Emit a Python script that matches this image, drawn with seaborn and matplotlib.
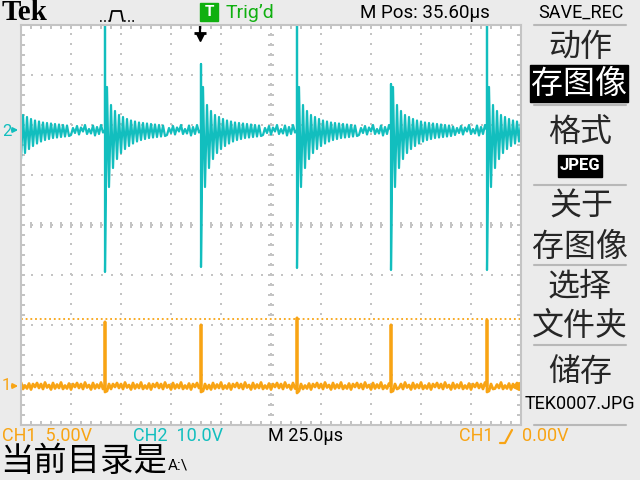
import numpy as np
import pandas as pd
import matplotlib
matplotlib.use("Agg")
import matplotlib.pyplot as plt
import seaborn as sns
from matplotlib.lines import Line2D
from matplotlib.patches import Rectangle
from matplotlib.ticker import MultipleLocator

# ---------------- data (divisions) ----------------
sample_step = 0.04
trace_start = -0.40
trace_end = 10.20

ch2_baseline = 1.90
ch2_spike_x = [-0.24, 1.68, 3.59, 5.52, 7.39, 9.32]
ch2_spike_top = [4.30, 4.30, 3.22, 4.30, 2.82, 4.30]
ch2_spike_bottom = [-0.90, -0.94, -0.84, -0.86, -0.90, -0.90]
ch2_ring = [0.86, -1.14, 0.50, -0.76, 0.38, -0.58, 0.30, -0.46, 0.26, -0.38,
            0.22, -0.32, 0.19, -0.27, 0.17, -0.23, 0.15, -0.20, 0.14, -0.18,
            0.13, -0.16, 0.12, -0.15, 0.11, -0.14, 0.10, -0.13, 0.09, -0.12]
ch2_noise = [0.06, -0.08, 0.10, -0.05, 0.03, -0.11, 0.09, -0.07, 0.11, -0.04,
             0.07, -0.10, 0.04, -0.06, 0.08, -0.09, 0.05, -0.03, 0.10, -0.08,
             0.02, -0.07, 0.09, -0.11]

ch1_baseline = -3.22
ch1_spike_x = [1.68, 3.59, 5.52, 7.39, 9.32]
ch1_spike_top = [-1.94, -2.00, -1.86, -2.00, -1.90]
ch1_spike_bottom = [-3.34, -3.34, -3.36, -3.34, -3.34]
ch1_ring = [-0.10, 0.04, -0.06]
ch1_noise = [0.04, -0.06, 0.07, -0.03, 0.02, -0.07, 0.06, -0.05, 0.03, -0.04,
             0.07, -0.06, 0.01, -0.05, 0.05, -0.07, 0.04, -0.02, 0.06, -0.04]
ch1_level_line = -1.88
trigger_x = 3.58

cyan = "#12bebe"
orange = "#f8a414"
green = "#10b010"
bg = "#ebebeb"
gridc = "#c4c4c4"


def build_trace(name, baseline, spike_x, tops, bottoms, ring, noise):
    n = int(round((trace_end - trace_start) / sample_step))
    t = trace_start + sample_step * np.arange(n)
    v = np.array([baseline + noise[i % len(noise)] for i in range(n)])
    spikes = {}
    for sx, top, bot in zip(spike_x, tops, bottoms):
        idx = int(round((sx - trace_start) / sample_step))
        spikes[idx] = (top, bot)
        for k, r in enumerate(ring, 1):
            if idx + k < n:
                v[idx + k] = baseline + r
    xs, ys = [], []
    for i in range(n):
        if i in spikes:
            xs += [t[i], t[i], t[i]]
            ys += [baseline, spikes[i][0], spikes[i][1]]
        else:
            xs.append(t[i])
            ys.append(v[i])
    return pd.DataFrame({"t": xs, "v": ys, "ch": name})


df2 = build_trace("CH2", ch2_baseline, ch2_spike_x, ch2_spike_top, ch2_spike_bottom, ch2_ring, ch2_noise)
df1 = build_trace("CH1", ch1_baseline, ch1_spike_x, ch1_spike_top, ch1_spike_bottom, ch1_ring, ch1_noise)

# ---------------- figure ----------------
sns.set_style("white")
plt.rcParams["font.family"] = ["Roboto", "DejaVu Sans"]
CJK = ["Noto Sans CJK SC", "DejaVu Sans"]

fig = plt.figure(figsize=(6.4, 4.8), dpi=100, facecolor=bg)
W, H = 640.0, 480.0


def fx(x):
    return x / W


def fy(y):
    return 1 - y / H


ax = fig.add_axes([fx(21), fy(425), 500 / W, 400 / H], facecolor="white")
ax.set_xlim(0, 10)
ax.set_ylim(-4, 4)

# graticule
ax.xaxis.set_major_locator(MultipleLocator(1))
ax.yaxis.set_major_locator(MultipleLocator(1))
ax.xaxis.set_minor_locator(MultipleLocator(0.2))
ax.yaxis.set_minor_locator(MultipleLocator(0.2))
ax.grid(True, which="major", color=gridc, lw=1.44, ls=(0, (1, 4)))
ax.tick_params(which="both", direction="in", length=3, width=1.44, color=gridc,
               top=True, right=True, left=True, bottom=True,
               labelleft=False, labelbottom=False)
for s in ax.spines.values():
    s.set_color(gridc)
    s.set_linewidth(1.5)
minor_x = np.arange(0, 10.01, 0.2)
minor_y = np.arange(-4, 4.01, 0.2)
ax.plot(minor_x, np.zeros_like(minor_x), ls="none", marker="|", ms=4, mew=1.44, color=gridc)
ax.plot(np.full_like(minor_y, 5), minor_y, ls="none", marker="_", ms=4, mew=1.44, color=gridc)

# CH1 level dotted line
ax.axhline(ch1_level_line, color=orange, lw=1.3, ls=(0, (1, 1.6)))

# traces
sns.lineplot(data=df2, x="t", y="v", sort=False, estimator=None, color=cyan,
             lw=1.6, ax=ax, legend=False)
sns.lineplot(data=df1, x="t", y="v", sort=False, estimator=None, color=orange,
             lw=2.0, ax=ax, legend=False)
ax.set_xlim(0, 10)
ax.set_ylim(-4, 4)
ax.set_xlabel("")
ax.set_ylabel("")

# channel markers
ax.annotate("", xy=(0.0, ch2_baseline), xytext=(-0.24, ch2_baseline),
            arrowprops=dict(arrowstyle="-|>", color=cyan, lw=1.4, mutation_scale=7),
            annotation_clip=False)
ax.annotate("", xy=(0.0, ch1_baseline), xytext=(-0.24, ch1_baseline),
            arrowprops=dict(arrowstyle="-|>", color=orange, lw=1.4, mutation_scale=7),
            annotation_clip=False)
ax.plot([9.88], [ch1_baseline], marker="<", ms=6, color=orange, clip_on=False)

# trigger position marker
ax.plot([trigger_x, trigger_x], [4.0, 3.84], color="black", lw=1.6, clip_on=False)
ax.plot([trigger_x], [3.84], marker="_", ms=8, mew=2, color="black", clip_on=False)
ax.plot([trigger_x], [3.76], marker="v", ms=6, color="black", clip_on=False)

fig.text(fx(2), fy(131), "2", color=cyan, fontsize=12, va="center", ha="left")
fig.text(fx(2), fy(385), "1", color=orange, fontsize=12, va="center", ha="left")

# ---------------- header ----------------
fig.text(fx(2), fy(13), "Tek", family=["Liberation Serif"], weight="bold",
         fontsize=21, va="center", ha="left", color="black")
# pulse icon
fig.add_artist(Line2D([fx(100), fx(110)], [fy(21), fy(21)], transform=fig.transFigure,
                      color="black", lw=1.2, ls=(0, (1, 1.5))))
fig.add_artist(Line2D([fx(110), fx(112), fx(121), fx(123)], [fy(21), fy(11), fy(11), fy(21)],
                      transform=fig.transFigure, color="black", lw=1.3))
fig.add_artist(Line2D([fx(124), fx(136)], [fy(21), fy(21)], transform=fig.transFigure,
                      color="black", lw=1.2, ls=(0, (1, 1.5))))
fig.add_artist(Rectangle((fx(200), fy(21)), 18 / W, 18 / H, transform=fig.transFigure,
                         color=green))
fig.text(fx(209), fy(12), "T", color="white", weight="bold", fontsize=11,
         va="center", ha="center")
fig.text(fx(226), fy(13), "Trig\u2019d", color=green, fontsize=14, va="center", ha="left")
fig.text(fx(360), fy(13), "M Pos: 35.60\u00b5s", color="black", fontsize=13.5,
         va="center", ha="left")

# ---------------- right menu ----------------
for ysep in [25, 105, 185, 265, 345, 425]:
    fig.add_artist(Line2D([fx(534), fx(626)], [fy(ysep), fy(ysep)], transform=fig.transFigure,
                          color="#b8b8b8", lw=1.5))
fig.text(fx(581), fy(13), "SAVE_REC", color="black", fontsize=13, va="center", ha="center")
fig.text(fx(580), fy(47), "动作", family=CJK, fontsize=23, va="center", ha="center")
fig.add_artist(Rectangle((fx(530), fy(102)), 98 / W, 37 / H, transform=fig.transFigure,
                         color="black"))
fig.text(fx(579), fy(84), "存图像", family=CJK, fontsize=23, va="center", ha="center",
         color="white")
fig.text(fx(580), fy(132), "格式", family=CJK, fontsize=23, va="center", ha="center")
fig.add_artist(Rectangle((fx(558), fy(177)), 44 / W, 22 / H, transform=fig.transFigure,
                         color="black"))
fig.text(fx(580), fy(166), "JPEG", color="white", weight="bold", fontsize=12,
         va="center", ha="center")
fig.text(fx(581), fy(207), "关于", family=CJK, fontsize=23, va="center", ha="center")
fig.text(fx(580), fy(247), "存图像", family=CJK, fontsize=23, va="center", ha="center")
fig.text(fx(580), fy(287), "选择", family=CJK, fontsize=23, va="center", ha="center")
fig.text(fx(580), fy(326), "文件夹", family=CJK, fontsize=23, va="center", ha="center")
fig.text(fx(580), fy(372), "储存", family=CJK, fontsize=23, va="center", ha="center")
fig.text(fx(580), fy(404), "TEK0007.JPG", color="black", fontsize=13, va="center", ha="center")

# ---------------- bottom status ----------------
fig.text(fx(2), fy(436), "CH1  5.00V", color=orange, fontsize=13, va="center", ha="left")
fig.text(fx(133), fy(436), "CH2  10.0V", color=cyan, fontsize=13, va="center", ha="left")
fig.text(fx(268), fy(436), "M 25.0\u00b5s", color="black", fontsize=13, va="center", ha="left")
fig.text(fx(459), fy(436), "CH1", color=orange, fontsize=13, va="center", ha="left")
fig.add_artist(Line2D([fx(500), fx(505), fx(512)], [fy(443), fy(443), fy(430)],
                      transform=fig.transFigure, color=orange, lw=1.6))
fig.text(fx(522), fy(436), "0.00V", color=orange, fontsize=13, va="center", ha="left")
fig.text(fx(0), fy(462), "当前目录是", family=CJK, fontsize=24, va="center", ha="left",
         color="black")
fig.text(fx(168), fy(465), "A:\\", color="black", fontsize=11, va="center", ha="left")

fig.savefig("out.png", dpi=100, facecolor=bg)
